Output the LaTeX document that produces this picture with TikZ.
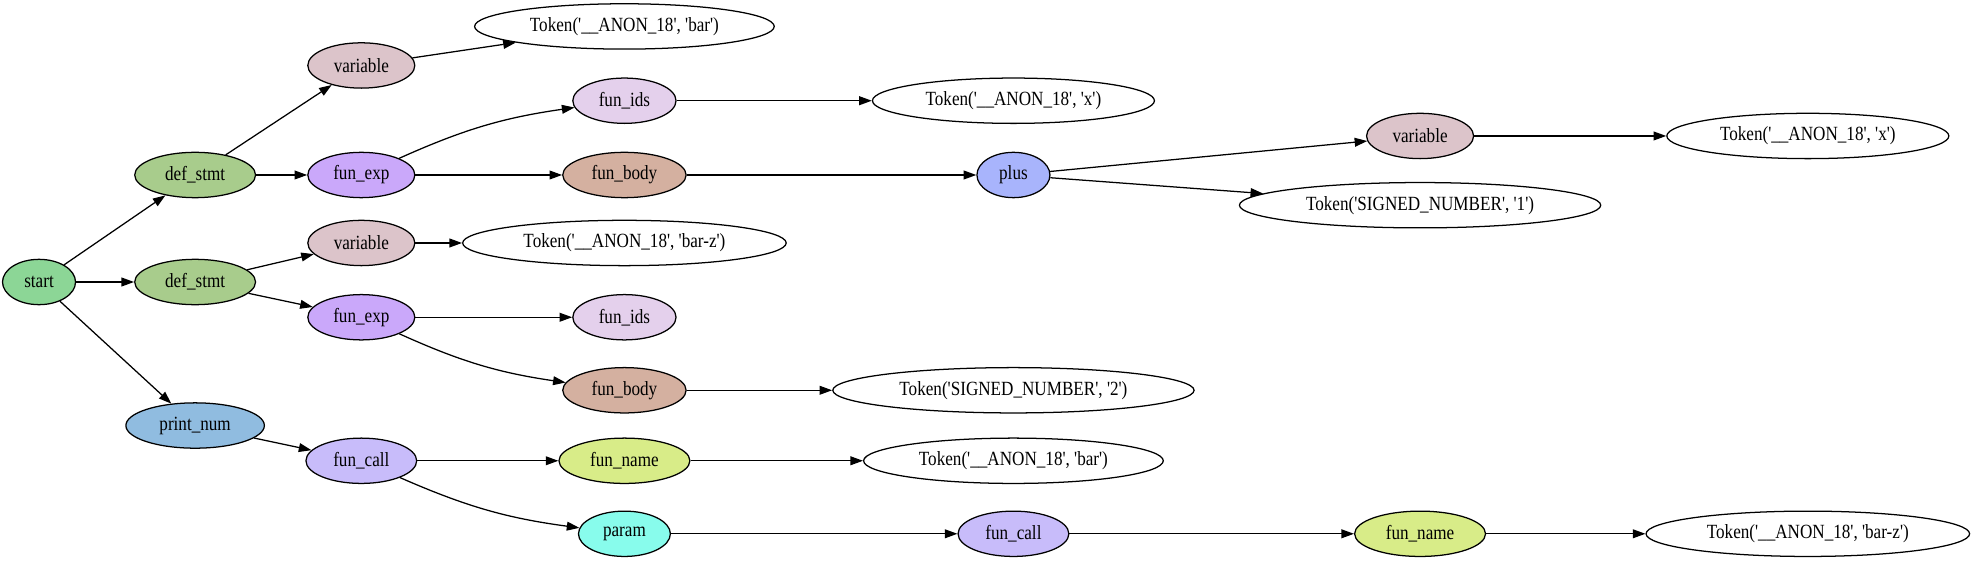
\documentclass[tikz,border=0pt]{standalone}
\usepackage{fontspec}
\setmainfont{Liberation Serif}[Ligatures=TeXOff, FakeStretch=0.85]
\usetikzlibrary{shapes.geometric, arrows.meta, positioning}

\definecolor{cstart}{RGB}{140,214,150}
\definecolor{cdef}{RGB}{168,204,140}
\definecolor{cvar}{RGB}{220,196,202}
\definecolor{cfexp}{RGB}{202,168,250}
\definecolor{cfids}{RGB}{228,208,236}
\definecolor{cfbody}{RGB}{212,176,160}
\definecolor{cplus}{RGB}{168,180,252}
\definecolor{cprint}{RGB}{144,188,224}
\definecolor{cfcall}{RGB}{200,188,250}
\definecolor{cfname}{RGB}{216,236,136}
\definecolor{cparam}{RGB}{136,252,236}

\newcommand{\tok}[2]{Token('#1', '#2')}

\begin{document}
\begin{tikzpicture}[
        on grid,
        font=\fontsize{16}{18}\selectfont,
    tnode/.style={ellipse, draw, line width=1pt, minimum height=36pt, inner xsep=-20pt, inner ysep=0pt},
    startn/.style={tnode, fill=cstart, minimum width=58pt},
    defst/.style={tnode, fill=cdef, minimum width=96pt},
    printn/.style={tnode, fill=cprint, minimum width=110pt},
    varbl/.style={tnode, fill=cvar, minimum width=85pt},
    funexp/.style={tnode, fill=cfexp, minimum width=85pt},
    funids/.style={tnode, fill=cfids, minimum width=82pt},
    funbody/.style={tnode, fill=cfbody, minimum width=98pt},
    funcall/.style={tnode, fill=cfcall, minimum width=88pt},
    funname/.style={tnode, fill=cfname, minimum width=104pt},
    paramn/.style={tnode, fill=cparam, minimum width=73pt},
    plusn/.style={tnode, fill=cplus, minimum width=58pt},
    token/.style={tnode, fill=white, minimum width=#1},
    line/.style={draw, -{Triangle[length=10pt,width=7pt]}, line width=1pt}
    ]
    \useasboundingbox (0pt,0pt) rectangle (1568pt,-447pt);

    % nodes
    \node[startn] (start) at (31pt,-224pt) {start};
    \node[defst, above right=85pt and 124pt of start] (def1) {def\_stmt};
    \node[defst, right=124pt of start] (def2) {def\_stmt};
    \node[printn, below right=114pt and 124pt of start] (print) {print\_num};

    \node[varbl, above right=87pt and 132pt of def1] (var1) {variable};
    \node[funexp, right=132pt of def1] (fexp1) {fun\_exp};
    \node[varbl, above right=31pt and 132pt of def2] (var2) {variable};
    \node[funexp, below right=28pt and 132pt of def2] (fexp2) {fun\_exp};
    \node[funcall, below right=28pt and 132pt of print] (fcall1) {fun\_call};

    \node[token=238pt, above right=31pt and 209pt of var1] (tbar1) {\tok{\_\_ANON\_18}{bar}};
    \node[funids, above right=59pt and 209pt of fexp1] (fids1) {fun\_ids};
    \node[funbody, right=209pt of fexp1] (fbody1) {fun\_body};
    \node[token=257pt, right=209pt of var2] (tbarz1) {\tok{\_\_ANON\_18}{bar-z}};
    \node[funids, right=209pt of fexp2] (fids2) {fun\_ids};
    \node[funbody, below right=58pt and 209pt of fexp2] (fbody2) {fun\_body};
    \node[funname, right=209pt of fcall1] (fname1) {fun\_name};
    \node[paramn, below right=58pt and 209pt of fcall1] (param) {param};

    \node[token=224pt, right=309pt of fids1] (tx1) {\tok{\_\_ANON\_18}{x}};
    \node[plusn, right=309pt of fbody1] (plus) {plus};
    \node[token=287pt, right=309pt of fbody2] (tnum2) {\tok{SIGNED\_NUMBER}{2}};
    \node[token=238pt, right=309pt of fname1] (tbar2) {\tok{\_\_ANON\_18}{bar}};
    \node[funcall, right=309pt of param] (fcall2) {fun\_call};

    \node[varbl, above right=31pt and 323pt of plus] (var3) {variable};
    \node[token=287pt, below right=24pt and 323pt of plus] (tnum1) {\tok{SIGNED\_NUMBER}{1}};
    \node[funname, right=323pt of fcall2] (fname2) {fun\_name};

    \node[token=224pt, right=308pt of var3] (tx2) {\tok{\_\_ANON\_18}{x}};
    \node[token=257pt, right=308pt of fname2] (tbarz2) {\tok{\_\_ANON\_18}{bar-z}};

    % lines
    \path[line] (start) -- (def1);
    \path[line] (start) -- (def2);
    \path[line] (start) -- (print);
    \path[line] (def1) -- (var1);
    \path[line] (def1) -- (fexp1);
    \path[line] (var1) -- (tbar1);
    \path[line] (fexp1) to[bend left=8] (fids1);
    \path[line] (fexp1) -- (fbody1);
    \path[line] (fids1) -- (tx1);
    \path[line] (fbody1) -- (plus);
    \path[line] (plus) -- (var3);
    \path[line] (plus) -- (tnum1);
    \path[line] (var3) -- (tx2);
    \path[line] (def2) -- (var2);
    \path[line] (def2) -- (fexp2);
    \path[line] (var2) -- (tbarz1);
    \path[line] (fexp2) -- (fids2);
    \path[line] (fexp2) to[bend right=8] (fbody2);
    \path[line] (fbody2) -- (tnum2);
    \path[line] (print) -- (fcall1);
    \path[line] (fcall1) -- (fname1);
    \path[line] (fcall1) to[bend right=8] (param);
    \path[line] (fname1) -- (tbar2);
    \path[line] (param) -- (fcall2);
    \path[line] (fcall2) -- (fname2);
    \path[line] (fname2) -- (tbarz2);

    \end{tikzpicture}
\end{document}
